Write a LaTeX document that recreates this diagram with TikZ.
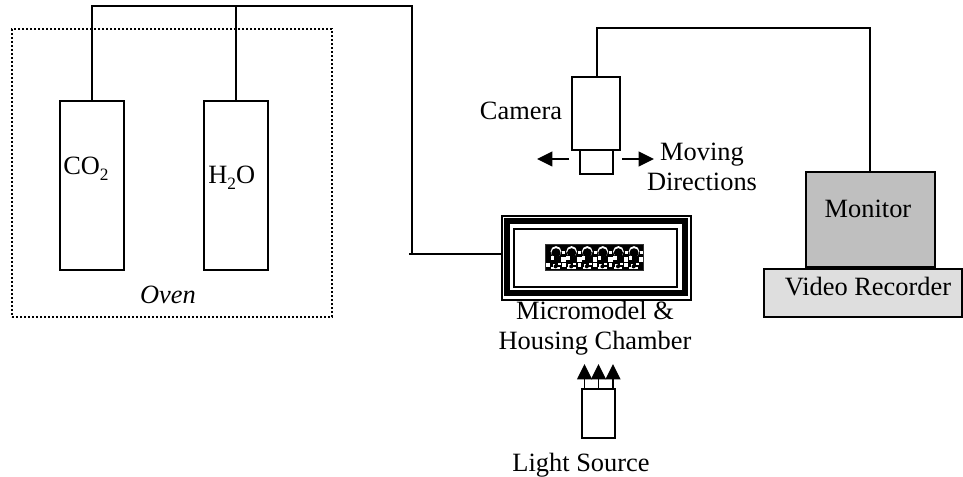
\documentclass[tikz,border=0pt]{standalone}
\usepackage{fontspec}
\setmainfont{Liberation Serif}
\usetikzlibrary{arrows.meta}
\tikzset{
  px/.style={x=0.75pt,y=-0.75pt},
  box/.style={draw=black,line width=1.2pt,fill=white,inner sep=0pt,minimum width=#1},
  wire/.style={draw=black,line width=1.2pt},
  plain/.style={font=\fontsize{19.8}{22.5}\selectfont,inner sep=0pt,align=center},
  tip/.style={-{Triangle[length=11.5pt,width=11pt]},line width=1.2pt},
  frame/.style={draw=black,inner sep=0pt}
}
\newcommand{\subtwo}{\raisebox{-0.22em}{\fontsize{13}{13}\selectfont 2}}
\begin{document}
\begin{tikzpicture}[px]
\useasboundingbox (0,0) rectangle (963,477);
\fill[white] (0,0) rectangle (963,477);
% oven and bottles
\node[draw=black,line width=1.4pt,dash pattern=on 1.4pt off 1.6pt,minimum width=240pt,minimum height=216pt,inner sep=0pt] (oven) at (172,173) {};
\node[box=48pt,minimum height=126.75pt] (co2) at (92,185.5) {};
\node[box=48pt,minimum height=126.75pt] (h2o) at (236,185.5) {};
\node[plain,anchor=base west] (co2t) at (63,175) {CO\subtwo};
\node[plain,anchor=base west] (h2ot) at (208,184) {H\subtwo O};
\node[plain,anchor=base] (ovent) at (168,303) {\textit{Oven}};
% micromodel
\node[frame,line width=1.6pt,minimum width=141.75pt,minimum height=63pt] (micro) at (596.5,258) {};
\node[frame,line width=4.5pt,minimum width=133.5pt,minimum height=54pt] (microb) at (596,257) {};
\node[frame,line width=1.5pt,minimum width=122.25pt,minimum height=43.5pt] (microc) at (595.5,258) {};
\begin{scope}
\clip (545,244.5) rectangle (643,270.5);
\fill[black] (545,244.5) rectangle (643,270.5);
\foreach \i in {0,...,5}{
  \pgfmathsetmacro{\cx}{556+15.6*\i}
  \fill[white] (\cx,251.5) circle[radius=5.4];
  \fill[black] (\cx,252.8) circle[radius=4.6];
  \fill[white] (\cx+6.4,251) rectangle +(3,3);
  \fill[white] (\cx-5.2,256.4) rectangle +(3.4,3.2);
  \fill[white] (\cx+5.4,257) rectangle +(4.6,4.6);
  \fill[white] (\cx-9.6,263.2) rectangle +(3.6,3.6);
  \fill[white] (\cx-3.4,263.8) rectangle +(2.6,2.8);
  \fill[white] (\cx+1.6,262.6) rectangle +(3,2);
  \fill[white] (\cx-4.6,266.6) rectangle +(8.6,2.6);
  \fill[black] (\cx-0.4,266.4) circle[radius=2];
}
\end{scope}
\draw[draw=black!80,line width=0.7pt] (545,244.5) rectangle (643,270.5);
\node[plain] (microt) at (595,328) {Micromodel \&\\Housing Chamber};
% gas lines
\coordinate (topr) at (412,6);
\coordinate (elbow) at (412,254);
\coordinate (stub) at (409,254);
\draw[wire] (co2.north) |- (topr) -- (elbow);
\draw[wire] (h2o.north) -- (h2o.north |- topr);
\draw[wire] (stub) -- (micro.west |- stub);
% camera
\node[box=36pt,minimum height=54.75pt] (camera) at (596,113.5) {};
\node[box=24.75pt,minimum height=18pt] (lens) at (596.5,162) {};
\node[plain,anchor=base] (camt) at (521,120) {Camera};
\node[plain] (movet) at (702,166.5) {Moving\\Directions};
\coordinate (la) at (569,159);
\coordinate (lb) at (537,159);
\coordinate (ra) at (622,159);
\coordinate (rb) at (654,159);
\draw[tip] (la) -- (lb);
\draw[tip] (ra) -- (rb);
% monitor
\node[draw=black,line width=1.2pt,fill=black!13,inner sep=0pt,minimum width=148.5pt,minimum height=36pt] (vcr) at (863,293) {};
\node[draw=black,line width=1.2pt,fill=black!25,inner sep=0pt,minimum width=96.75pt,minimum height=71.25pt] (monitor) at (870.5,219.5) {};
\node[plain,anchor=base] (mont) at (868,218) {Monitor};
\node[plain,anchor=base] (vcrt) at (868,296) {Video Recorder};
\coordinate (wa) at (597,28);
\coordinate (wb) at (870,28);
\coordinate (wc) at (597,77);
\draw[wire] (wc) -- (wa) -- (wb) -- (wb |- monitor.north);
% light
\node[box=24.75pt,minimum height=36.75pt] (light) at (598.5,413.5) {};
\coordinate (a1) at (584.5,364);
\coordinate (a2) at (598.5,364);
\coordinate (a3) at (613,364);
\draw[tip] (a1 |- light.north) -- (a1);
\draw[tip] (a2 |- light.north) -- (a2);
\draw[tip] (a3 |- light.north) -- (a3);
\node[plain,anchor=base] (lightt) at (581,471) {Light Source};
\end{tikzpicture}
\end{document}
